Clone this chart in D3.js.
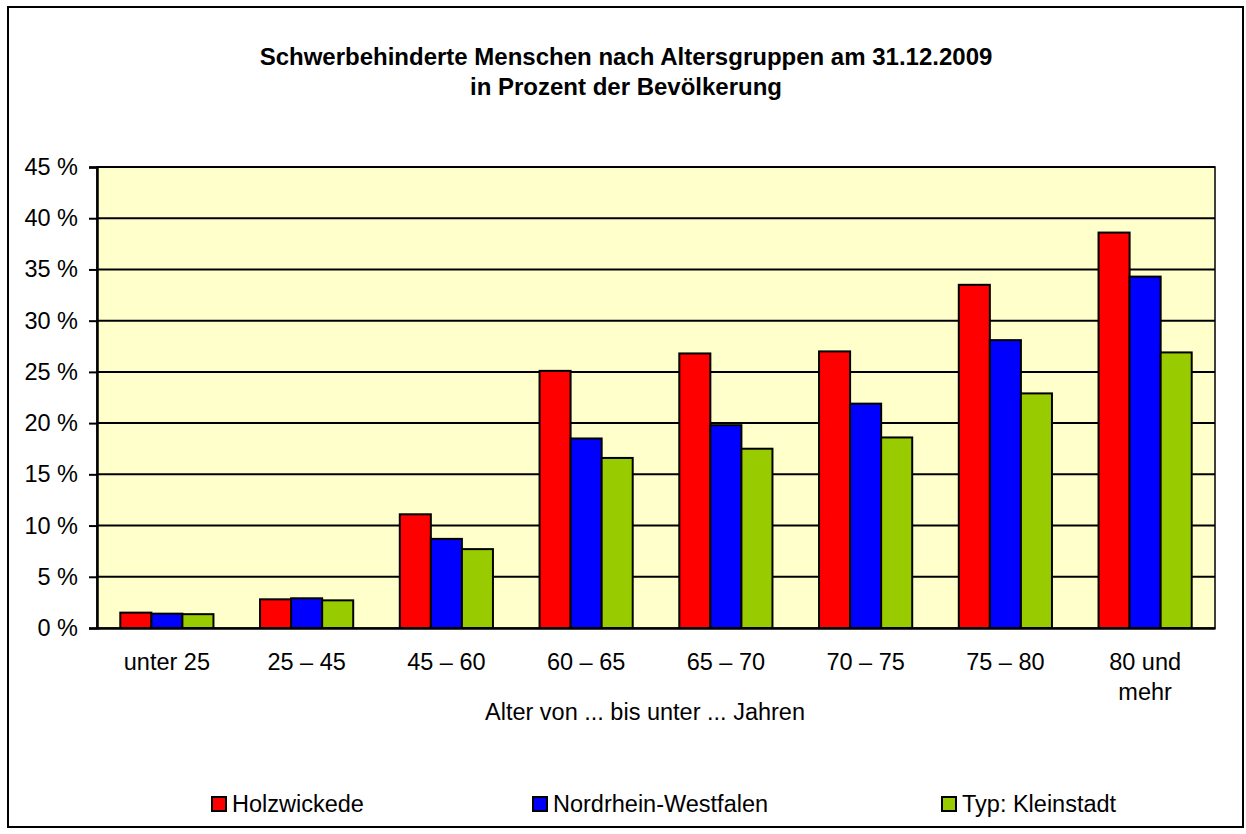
<!DOCTYPE html>
<html><head><meta charset="utf-8">
<script src="https://cdn.jsdelivr.net/npm/d3@7"></script>
<style>
html,body{margin:0;padding:0;background:#fff;}
svg text{font-family:"Liberation Sans",Arial,sans-serif;fill:#000;}
</style></head>
<body>
<svg id="chart" width="1246" height="834"></svg>
<script>
const categories = ["unter 25", "25 – 45", "45 – 60", "60 – 65", "65 – 70", "70 – 75", "75 – 80", "80 und\nmehr"];
const seriesNames = ["Holzwickede", "Nordrhein-Westfalen", "Typ: Kleinstadt"];
const holzwickede = [1.5, 2.8, 11.1, 25.1, 26.8, 27.0, 33.5, 38.6];
const nrw = [1.4, 2.9, 8.7, 18.5, 19.8, 21.9, 28.1, 34.3];
const kleinstadt = [1.35, 2.7, 7.7, 16.6, 17.5, 18.6, 22.9, 26.9];
const seriesColors = ["#FF0000", "#0000FF", "#99CC00"];
const yTicks = [0, 5, 10, 15, 20, 25, 30, 35, 40, 45];
const titleLines = ["Schwerbehinderte Menschen nach Altersgruppen am 31.12.2009", "in Prozent der Bevölkerung"];
const xTitle = "Alter von ... bis unter ... Jahren";

const seriesValues = [holzwickede, nrw, kleinstadt];
const FS = 23.5;
const svg = d3.select("#chart");
const L = 97, R = 1215, T = 167, B = 628;

// outer border
svg.append("rect").attr("x", 8).attr("y", 7).attr("width", 1235).attr("height", 820)
  .attr("fill", "#fff").attr("stroke", "#000").attr("stroke-width", 2);

// title
svg.append("text").attr("x", 626).attr("y", 65).attr("text-anchor", "middle")
  .attr("font-size", 24).attr("font-weight", "bold")
  .selectAll("tspan").data(titleLines).join("tspan")
  .attr("x", 626).attr("dy", (d, i) => i === 0 ? 0 : 30).text(d => d);

const x0 = d3.scaleBand().domain(categories).range([L, R]).padding(0);
const x1 = d3.scaleBand().domain(seriesNames).range([0, x0.bandwidth()]).paddingInner(0).paddingOuter(0.75);
const y = d3.scaleLinear().domain([0, 45]).range([B, T]);

// plot background
svg.append("rect").attr("x", L).attr("y", T).attr("width", R - L).attr("height", B - T)
  .attr("fill", "#FFFFCC").attr("stroke", "#000").attr("stroke-width", 1.5);

// gridlines
svg.append("g").selectAll("line").data(yTicks.filter(t => t > 0)).join("line")
  .attr("x1", L).attr("x2", R).attr("y1", d => y(d)).attr("y2", d => y(d))
  .attr("stroke", "#000").attr("stroke-width", 2);

// bars
const groups = svg.append("g").selectAll("g").data(categories).join("g")
  .attr("transform", d => `translate(${x0(d)},0)`);
groups.selectAll("rect").data((c, ci) => seriesNames.map((s, si) => ({s, si, v: seriesValues[si][ci]})))
  .join("rect")
  .attr("x", d => x1(d.s)).attr("width", x1.bandwidth())
  .attr("y", d => y(d.v)).attr("height", d => B - y(d.v))
  .attr("fill", d => seriesColors[d.si]).attr("stroke", "#000").attr("stroke-width", 2);

// y axis
const yAxis = d3.axisLeft(y).tickValues(yTicks).tickSize(8).tickPadding(11).tickFormat(d => d + " %");
const ya = svg.append("g").attr("transform", `translate(${L},0)`).call(yAxis);
ya.select(".domain").attr("stroke", "#000").attr("stroke-width", 2.5);
ya.selectAll(".tick line").attr("stroke", "#000").attr("stroke-width", 2);
ya.selectAll(".tick text").attr("font-size", FS).attr("font-family", "Liberation Sans, Arial, sans-serif").attr("fill", "#000");

// x axis
const xAxis = d3.axisBottom(x0).tickSize(0).tickPadding(0);
const xa = svg.append("g").attr("transform", `translate(0,${B})`).call(xAxis);
xa.select(".domain").attr("stroke", "#000").attr("stroke-width", 2.5);
xa.selectAll(".tick text").each(function(d) {
  const t = d3.select(this);
  const lines = d.split("\n");
  t.text(null).attr("font-size", FS).attr("font-family", "Liberation Sans, Arial, sans-serif").attr("fill", "#000").attr("y", 0).attr("dy", null);
  lines.forEach((ln, i) => {
    t.append("tspan").attr("x", 0).attr("y", 42 + i * 30).text(ln);
  });
});

// x title
svg.append("text").attr("x", 645).attr("y", 720).attr("text-anchor", "middle")
  .attr("font-size", FS).text(xTitle);

// legend
const legendX = [212, 533, 942];
const lg = svg.append("g").selectAll("g").data(seriesNames).join("g")
  .attr("transform", (d, i) => `translate(${legendX[i]},797)`);
lg.append("rect").attr("width", 14).attr("height", 14)
  .attr("fill", (d, i) => seriesColors[i]).attr("stroke", "#000").attr("stroke-width", 2);
lg.append("text").attr("x", 20).attr("y", 15).attr("font-size", FS).text(d => d);
</script>
</body></html>
